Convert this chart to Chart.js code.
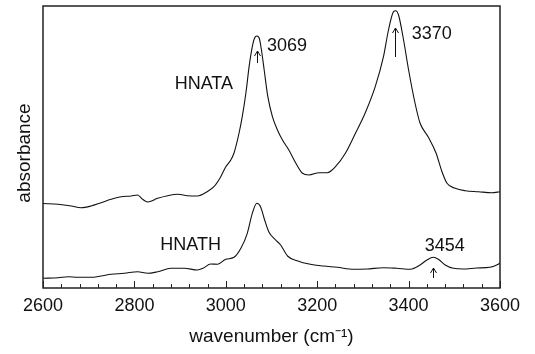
<!DOCTYPE html>
<html>
<head>
<meta charset="utf-8">
<script src="https://cdn.jsdelivr.net/npm/chart.js@4.4.1/dist/chart.umd.min.js"></script>
<style>
  html, body { margin:0; padding:0; background:#fff; }
</style>
</head>
<body>
<canvas id="chart" width="535" height="354"></canvas>
<script>
// upper trace (HNATA), wavenumber / absorbance (arb. units)
const hnataWn = [2600,2633,2662,2683,2705,2727,2749,2771,2793,2807,2818,2829,2851,2873,2895,2916,2938,2959,2974,2989,
  3000,3011,3018,3029,3036,3044,3051,3058,3063,3068,3073,3078,3084,3092,3102,3113,3124,3138,3153,3167,3182,3204,3222,
  3240,3262,3284,3305,3327,3345,3356,3367,3372,3378,3389,3400,3414,3425,3443,3460,3473,3484,3502,3524,3553,3582,3600];
const hnataAbs = [0.845,0.837,0.82,0.803,0.82,0.853,0.887,0.913,0.92,0.93,0.887,0.86,0.897,0.923,0.937,0.923,0.92,0.963,1.013,1.113,
  1.213,1.28,1.35,1.55,1.713,1.95,2.213,2.413,2.5,2.52,2.5,2.38,2.18,1.913,1.713,1.58,1.48,1.38,1.25,1.15,1.13,1.153,1.153,
  1.213,1.35,1.55,1.75,2.013,2.313,2.58,2.763,2.773,2.73,2.48,2.18,1.85,1.65,1.51,1.35,1.163,1.047,0.997,0.973,0.963,0.953,0.963];

// lower trace (HNATH)
const hnathWn = [2600,2633,2655,2676,2705,2727,2749,2778,2807,2829,2851,2880,2909,2938,2950,2967,2982,3000,3018,3033,
  3047,3058,3068,3076,3085,3094,3109,3120,3135,3156,3185,3214,3244,3280,3309,3345,3374,3404,3425,3440,3454,3465,3480,
  3498,3520,3549,3578,3596,3600];
const hnathAbs = [0.097,0.103,0.113,0.107,0.107,0.12,0.137,0.147,0.163,0.147,0.163,0.197,0.197,0.18,0.197,0.24,0.237,0.287,0.307,0.397,
  0.547,0.747,0.847,0.813,0.68,0.563,0.48,0.43,0.32,0.273,0.237,0.22,0.207,0.187,0.19,0.203,0.197,0.187,0.23,0.28,0.307,0.287,0.23,
  0.197,0.19,0.2,0.207,0.237,0.25];

// marked peaks
const peakWn = [3069, 3370, 3454];

const FONT = "'Liberation Sans', Arial, sans-serif";
const INK = "#111";

const toPts = (xs, ys) => xs.map((x, i) => ({ x, y: ys[i] }));

// text + arrow annotations, placed in data units
const notes = [
  { text: "HNATA", x: 2952, y: 2.04, align: "center" },
  { text: String(peakWn[0]), x: 3090, y: 2.42, align: "left" },
  { text: String(peakWn[1]), x: 3407, y: 2.54, align: "left" },
  { text: "HNATH", x: 2923, y: 0.43, align: "center" },
  { text: String(peakWn[2]), x: 3479, y: 0.42, align: "center" }
];
const arrows = [
  { x: peakWn[0], from: 2.25, to: 2.37 },
  { x: peakWn[1], from: 2.31, to: 2.60 },
  { x: peakWn[2], from: 0.10, to: 0.20 }
];

const framePlugin = {
  id: "frame",
  afterDraw(chart) {
    const { ctx, chartArea: a, scales: { x, y } } = chart;
    ctx.save();
    ctx.strokeStyle = "#222";
    ctx.lineWidth = 1.5;
    ctx.strokeRect(a.left, a.top, a.right - a.left, a.bottom - a.top);

    // inward tick marks
    ctx.lineWidth = 1;
    x.ticks.forEach(t => {
      const px = Math.round(x.getPixelForValue(t.value)) + 0.5;
      const len = t.value % 200 === 0 ? 7 : 4;
      ctx.beginPath();
      ctx.moveTo(px, a.bottom);
      ctx.lineTo(px, a.bottom - len);
      ctx.stroke();
    });

    ctx.fillStyle = INK;
    ctx.textBaseline = "middle";

    // y axis title, sits a little below the plot's middle in the original
    ctx.save();
    ctx.font = "19px " + FONT;
    ctx.textAlign = "center";
    ctx.translate(25, y.getPixelForValue(1.35));
    ctx.rotate(-Math.PI / 2);
    ctx.fillText("absorbance", 0, 0);
    ctx.restore();

    // labels
    ctx.font = "18px " + FONT;
    notes.forEach(n => {
      ctx.textAlign = n.align;
      ctx.fillText(n.text, x.getPixelForValue(n.x), y.getPixelForValue(n.y));
    });

    // arrows
    ctx.strokeStyle = INK;
    ctx.lineWidth = 1;
    arrows.forEach(ar => {
      const px = Math.round(x.getPixelForValue(ar.x)) + 0.5;
      const y0 = y.getPixelForValue(ar.from), y1 = y.getPixelForValue(ar.to);
      ctx.beginPath();
      ctx.moveTo(px, y0);
      ctx.lineTo(px, y1);
      ctx.moveTo(px - 3, y1 + 5);
      ctx.lineTo(px, y1);
      ctx.lineTo(px + 3, y1 + 5);
      ctx.stroke();
    });
    ctx.restore();
  }
};

new Chart(document.getElementById("chart"), {
  type: "line",
  data: {
    datasets: [
      { label: "HNATA", data: toPts(hnataWn, hnataAbs) },
      { label: "HNATH", data: toPts(hnathWn, hnathAbs) }
    ]
  },
  options: {
    responsive: false,
    animation: false,
    layout: { padding: { top: 6, right: 35, bottom: 0, left: 0 } },
    elements: {
      line: { borderColor: INK, borderWidth: 1.1, cubicInterpolationMode: "monotone", fill: false },
      point: { radius: 0 }
    },
    plugins: { legend: { display: false }, tooltip: { enabled: false } },
    scales: {
      x: {
        type: "linear",
        min: 2600, max: 3600,
        grid: { display: false, drawTicks: false },
        border: { display: false },
        ticks: {
          stepSize: 40, autoSkip: false, maxRotation: 0, padding: 7,
          color: INK, font: { family: FONT, size: 18 },
          callback: v => (v % 200 === 0 ? String(v) : "")
        },
        title: { display: true, text: "wavenumber (cm\u207B\u00B9)", color: INK,
                 font: { family: FONT, size: 19 }, padding: { top: 0, bottom: 6 } },
        afterFit: s => { s.height = 66; }
      },
      y: {
        min: 0, max: 2.82,
        grid: { display: false, drawTicks: false },
        border: { display: false },
        ticks: { display: false },
        afterFit: s => { s.width = 43; }
      }
    }
  },
  plugins: [framePlugin]
});
</script>
</body>
</html>
